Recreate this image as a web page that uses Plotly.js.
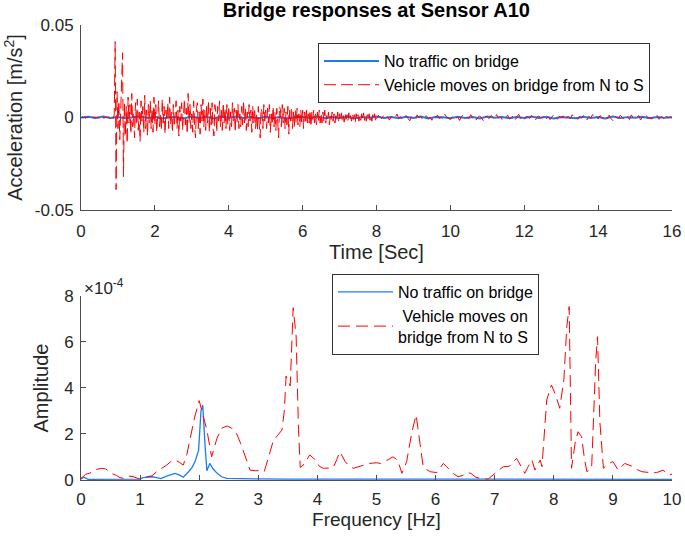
<!DOCTYPE html>
<html>
<head>
<meta charset="utf-8">
<script src="https://cdn.plot.ly/plotly-3.0.1.min.js"></script>
<style>
  html, body { margin: 0; padding: 0; background: #fff; }
  #chart { width: 685px; height: 537px; }
</style>
</head>
<body>
<div id="chart"></div>
<script>
// sampling of the acceleration records [s]
const DT_QUIET = 0.2;
const DT_VEHICLE_EARLY = 0.025;  // 0 - 8 s, vehicle on the bridge
const DT_VEHICLE_LATE = 0.05;    // 8 - 16 s, free decay
const T_LATE_START = 8;

// acceleration, no traffic, in 1e-3 m/s^2 (every 0.2 s)
const ACC_QUIET = [
  0.0, 0.4, -0.3, 0.5, -0.2, 0.3, -0.4, 0.2, 0.5, -0.3, 0.4, -0.5, 0.3, 0.1, -0.4, 0.5, -0.2, 0.3, -0.5, 0.4,
  -0.1, 0.5, -0.3, 0.2, -0.4, 0.4, -0.2, 0.3, -0.5, 0.1, 0.4, -0.3, 0.5, -0.4, 0.2, -0.2, 0.4, -0.5, 0.3, -0.1,
  0.5, -0.3, 0.2, -0.4, 0.4, -0.2, 0.5, -0.5, 0.3, 0.1, -0.4, 0.4, -0.3, 0.2, -0.5, 0.5, -0.1, 0.3, -0.4, 0.2,
  -0.3, 0.5, -0.2, 0.4, -0.5, 0.3, 0.1, -0.4, 0.4, -0.2, 0.3, -0.5, 0.5, -0.3, 0.2, -0.1, 0.4, -0.4, 0.3, -0.2,
  0.1
];

// acceleration, vehicle N->S, 0 - 8 s, in 1e-3 m/s^2 (every 0.025 s)
const ACC_VEHICLE_EARLY = [
  // 0 - 0.875 s
  0.2, -0.3, 0.4, -0.1, 0.3, -0.5, 0.2, -0.2, 0.5, -0.3, 0.1, -0.4, 0.3, -0.2, 0.4, -0.5, 0.2, -0.1,
  0.3, -0.4, 0.5, -0.2, 0.1, -0.3, 0.4, -0.5, 0.2, -0.3, 0.3, -0.2, 0.4, -0.6, 0.2, -0.3, 0.5, -0.4,
  // 0.9 - 1.2 s (vehicle enters)
  1.5, 41, -39, 14, -6, 9, -12, 5, 18, 35, -32, 8, -10,
  // 1.225 - 1.975 s
  6, -14, 11, -3, 7, -9, 13, -5, 2, -11, 8, -4, 10, -7, 3, -13, 9, -2, 6, -8, 12, -6, 4, -10, 7, -3, 9, -6, 5, -8, 11,
  // 2 - 3.975 s
  -4, 7, -8, 3, 9, -5, 2, -7, 10, -3, 6, -9, 4, -2, 8, -6, 11, -4, 3, -8,
  7, -5, 1, 9, -6, 4, -10, 6, -2, 8, -7, 3, 10, -4, 5, -9, 13, -3, 7, -6,
  2, -8, 9, -4, -11, 5, 8, -6, 3, -9, 7, -2, 10, -5, 4, -7, 6, -3, 9, -8,
  5, -4, 8, -6, -10, 7, 3, -8, 6, -2, 9, -5, 4, -7, 8, -3, 5, -6, 7, -4,
  // 4 - 5.975 s
  6, -7, 3, -5, 8, -2, 5, -8, 4, -3, 7, -6, 2, -5, 6, -4, 9, -3, 5, -7,
  3, -5, 7, -2, 4, -8, 6, -3, 5, -6, 2, -7, 6, -4, -11, 5, 3, -6, 7, -2,
  4, -6, 5, -3, 7, -8, 2, -4, 6, -5, 3, -7, 5, -2, -11, 6, 4, -5, 7, -3,
  5, -6, 3, -4, 6, -9, 4, -2, 5, -6, 3, -5, 4, -3, 5, -4, 2, -5, 4, -3,
  // 6 - 7.975 s
  4, -6, 3, -2, 5, -4, 2, -3, 4, -5, 3, -1, 4, -3, 2, -4, 3, -2, 4, -3,
  2, -3, 3, -2, 4, -3, 1, -2, 3, -4, 2, -1, 3, -2, 2, -3, 1, -2, 3, -2,
  2, -1.5, 2.5, -2, 1, -2.5, 2, -1, 1.5, -2, 2.5, -1.5, 1, -2, 2, -1, 1.5, -2.5, 2, -1,
  1.5, -2, 1, -1.5, 2, -1, 2.5, -1.5, 1, -2, 1.5, -1, 2, -1.5, 1, -2, 1.5, -1, 2, -1.5
];

// acceleration, vehicle N->S, 8 - 16 s, in 1e-3 m/s^2 (every 0.05 s)
const ACC_VEHICLE_LATE = [
  -0.8, 1.2, 0.2, -0.5, 1.6, -0.3, 0.4, -1.4, 0.6, 0.1,
  -0.6, 1.9, -0.2, 0.5, -0.9, 0.3, 1.1, -0.4, -1.8, 0.7,
  0.2, -0.5, 1.4, -0.1, 0.6, -1.2, 0.3, 0.9, -0.4, 0.2,
  -1.5, 0.8, -0.2, 1.3, -0.6, 0.1, -0.9, 1.7, 0.3, -0.4,
  -1.1, 0.5, 0.9, -0.3, 0.2, -1.6, 0.6, 1.2, -0.5, 0.1,
  -0.7, 1.5, -0.2, 0.4, -1.3, 0.3, 0.8, -0.4, -2.0, 0.6,
  0.3, -0.6, 1.1, 0.2, -0.8, 1.6, -0.3, 0.5, -1.0, 0.2,
  -0.4, 1.3, -0.9, 0.1, 0.7, -1.4, 0.4, 1.8, -0.5, 0.2,
  -1.2, 0.6, 0.2, -0.5, 1.0, -0.2, -1.5, 0.4, 0.8, -0.3,
  0.1, 1.4, -0.7, 0.3, -1.1, 0.5, 1.2, -0.4, -0.9, 0.6,
  -0.3, 0.9, -1.6, 0.2, 0.5, -0.6, 1.5, -0.2, 0.3, -1.0,
  0.7, -0.4, 1.1, 0.1, -1.3, 0.6, -0.2, 1.6, -0.5, 0.3,
  -0.8, 1.0, 0.2, -1.2, 0.4, -0.3, 1.3, -0.6, -1.7, 0.5,
  0.2, -0.5, 1.2, -0.1, -0.9, 0.7, 0.3, -1.1, 1.4, -0.2,
  -0.6, 0.4, 1.0, -1.3, 0.2, -0.4, 1.5, -0.7, 0.3, -0.9,
  0.6, -0.2, 1.1, -1.0, 0.4, 0.1, -1.4, 0.8, -0.3, 0.5,
  -0.4
];

// spectrum, no traffic (amplitude in 1e-4)
const FREQ_QUIET = [0, 0.05, 0.12, 0.25, 0.5, 0.75, 1.0, 1.05, 1.12, 1.2, 1.28, 1.35, 1.45, 1.52, 1.59, 1.66,
  1.73, 1.82, 1.88, 1.93, 1.99, 2.03, 2.06, 2.10, 2.13, 2.18, 2.23, 2.30, 2.38, 2.47, 2.6, 2.75, 3.0, 3.5,
  4.0, 4.5, 5.0, 5.5, 6.0, 6.5, 7.0, 7.5, 8.0, 8.5, 9.0, 9.5, 10.0];
const AMP_QUIET = [0.05, 0.12, 0.03, 0.03, 0.04, 0.03, 0.04, 0.10, 0.12, 0.14, 0.10, 0.06, 0.17, 0.24, 0.29, 0.22,
  0.12, 0.36, 0.55, 0.80, 1.30, 3.00, 3.25, 1.45, 0.40, 0.72, 0.50, 0.30, 0.14, 0.07, 0.06, 0.05, 0.05, 0.04,
  0.04, 0.03, 0.04, 0.03, 0.04, 0.03, 0.04, 0.03, 0.04, 0.03, 0.04, 0.03, 0.03];

// spectrum, vehicle N->S (amplitude in 1e-4)
const FREQ_VEHICLE = [
  0.00, 0.08, 0.15, 0.25, 0.35, 0.42, 0.51, 0.60, 0.66, 0.72, 0.80, 0.88, 0.95, 1.00, 1.11, 1.20,
  1.28, 1.37, 1.45, 1.52, 1.59, 1.66, 1.73, 1.79, 1.84, 1.92, 2.00, 2.06, 2.13, 2.21, 2.30, 2.38,
  2.47, 2.55, 2.63, 2.70, 2.75, 2.80, 2.86, 2.95, 3.03, 3.10, 3.18, 3.25, 3.33, 3.40, 3.44, 3.47,
  3.54, 3.59, 3.64, 3.68, 3.71, 3.78, 3.87, 3.97, 4.03, 4.10, 4.20, 4.27, 4.33, 4.38, 4.47, 4.54,
  4.61, 4.70, 4.78, 4.88, 5.00, 5.07, 5.14, 5.21, 5.28, 5.36, 5.43, 5.51, 5.60, 5.67, 5.73, 5.79,
  5.85, 5.91, 6.02, 6.08, 6.13, 6.18, 6.24, 6.30, 6.38, 6.46, 6.55, 6.60, 6.68, 6.75, 6.89, 7.00,
  7.08, 7.15, 7.25, 7.37, 7.44, 7.51, 7.57, 7.63, 7.68, 7.73, 7.77, 7.80, 7.84, 7.88, 7.96, 8.03,
  8.10, 8.17, 8.22, 8.26, 8.30, 8.36, 8.41, 8.47, 8.52, 8.56, 8.64, 8.68, 8.71, 8.74, 8.78, 8.84,
  8.92, 9.00, 9.09, 9.20, 9.27, 9.34, 9.41, 9.49, 9.60, 9.74, 9.85, 9.94, 10.00
];
const AMP_VEHICLE = [
  0.07, 0.25, 0.30, 0.45, 0.51, 0.48, 0.29, 0.20, 0.10, 0.07, 0.17, 0.15, 0.08, 0.04, 0.14, 0.18,
  0.36, 0.50, 0.65, 0.80, 0.87, 0.78, 0.65, 1.10, 1.74, 2.70, 3.45, 2.90, 2.17, 1.01, 1.81, 2.25,
  2.35, 2.25, 2.03, 1.60, 1.23, 0.80, 0.43, 0.40, 0.41, 0.36, 1.10, 1.67, 1.95, 2.17, 3.00, 4.52,
  4.09, 7.49, 6.26, 2.20, 0.54, 0.70, 1.09, 0.87, 0.60, 0.51, 0.52, 0.55, 0.90, 1.23, 0.80, 0.60,
  0.51, 0.58, 0.65, 0.72, 0.75, 0.72, 0.80, 0.92, 1.01, 0.85, 0.29, 0.80, 2.10, 2.83, 1.80, 0.58,
  0.45, 0.36, 0.32, 0.55, 0.72, 0.60, 0.43, 0.28, 0.14, 0.20, 0.32, 0.28, 0.12, 0.07, 0.04, 0.29,
  0.45, 0.58, 0.60, 0.94, 0.60, 0.29, 0.60, 0.87, 0.43, 0.70, 0.87, 0.58, 2.00, 3.48, 4.13, 3.70,
  3.12, 4.35, 6.67, 7.54, 0.51, 1.60, 2.10, 1.88, 0.90, 0.36, 0.51, 3.00, 5.22, 6.23, 2.50, 0.51,
  0.70, 0.80, 0.43, 0.72, 0.65, 0.58, 0.45, 0.36, 0.33, 0.32, 0.43, 0.22, 0.25
];

const BLUE = '#1f7bf2';
const RED = '#ff0000';
const AXIS = '#4d4d4d';
const TXT = '#262626';
const FONT = 'Liberation Sans, Arial, sans-serif';
const RED_DASH = '12px,5px';

const toSI = v => v / 1000; // 1e-3 m/s^2 -> m/s^2

const data = [
  { type: 'scatter', mode: 'lines', name: 'No traffic on bridge',
    x0: 0, dx: DT_QUIET, y: ACC_QUIET.map(toSI),
    xaxis: 'x', yaxis: 'y', legend: 'legend',
    line: { color: BLUE, width: 2 } },
  { type: 'scatter', mode: 'lines', name: 'Vehicle moves on bridge from N to S',
    x0: 0, dx: DT_VEHICLE_EARLY, y: ACC_VEHICLE_EARLY.map(toSI),
    xaxis: 'x', yaxis: 'y', legend: 'legend', legendgroup: 'veh',
    line: { color: RED, width: 1, dash: RED_DASH } },
  { type: 'scatter', mode: 'lines', name: 'Vehicle moves on bridge from N to S',
    x0: T_LATE_START, dx: DT_VEHICLE_LATE, y: ACC_VEHICLE_LATE.map(toSI),
    xaxis: 'x', yaxis: 'y', legend: 'legend', legendgroup: 'veh', showlegend: false,
    line: { color: RED, width: 1, dash: RED_DASH } },
  { type: 'scatter', mode: 'lines', name: 'No traffic on bridge',
    x: FREQ_QUIET, y: AMP_QUIET,
    xaxis: 'x2', yaxis: 'y2', legend: 'legend2',
    line: { color: BLUE, width: 1.3 } },
  { type: 'scatter', mode: 'lines', name: '\u00a0Vehicle moves on<br>bridge from N to S',
    x: FREQ_VEHICLE, y: AMP_VEHICLE,
    xaxis: 'x2', yaxis: 'y2', legend: 'legend2',
    line: { color: RED, width: 1, dash: '12px,6px' } }
];

const axisBase = {
  showgrid: false, zeroline: false, showline: true, linecolor: AXIS, linewidth: 1,
  ticks: 'inside', ticklen: 5, tickcolor: AXIS,
  tickfont: { size: 17, color: TXT, family: FONT },
  automargin: false, fixedrange: true
};

const layout = {
  width: 685, height: 537,
  margin: { l: 81, r: 13, t: 25, b: 57 },
  paper_bgcolor: '#fff', plot_bgcolor: '#fff',
  font: { family: FONT, color: TXT },
  showlegend: true,
  title: { text: '<b>Bridge responses at Sensor A10</b>', font: { size: 20, color: '#000' },
           x: 0.5495, xanchor: 'center', y: 0.981, yanchor: 'middle' },
  xaxis: Object.assign({}, axisBase, {
    domain: [0, 1], anchor: 'y', range: [0, 16], dtick: 2, tick0: 0, ticklabelstandoff: 6,
    title: { text: 'Time [Sec]', font: { size: 20, color: TXT }, standoff: 2 }
  }),
  yaxis: Object.assign({}, axisBase, {
    domain: [0.5934, 1], anchor: 'x', range: [-0.05, 0.05],
    tickvals: [-0.05, 0, 0.05], ticktext: ['-0.05', '0', '0.05'], ticklabelstandoff: 3,
    title: { text: 'Acceleration [m/s<sup>2</sup>]', font: { size: 20, color: TXT }, standoff: 6 }
  }),
  xaxis2: Object.assign({}, axisBase, {
    domain: [0, 1], anchor: 'y2', range: [0, 10], dtick: 1, tick0: 0, ticklabelstandoff: 4,
    title: { text: 'Frequency [Hz]', font: { size: 19, color: TXT }, standoff: 4 }
  }),
  yaxis2: Object.assign({}, axisBase, {
    domain: [0, 0.4044], anchor: 'x2', range: [0, 8], dtick: 2, tick0: 0, ticklabelstandoff: 3,
    title: { text: 'Amplitude', font: { size: 20, color: TXT }, standoff: 10 }
  }),
  legend: {
    x: 0.401, y: 0.9604, xanchor: 'left', yanchor: 'top',
    bgcolor: '#fff', bordercolor: '#333', borderwidth: 1,
    font: { size: 16, color: '#000' }, itemwidth: 55, tracegroupgap: 0
  },
  legend2: {
    x: 0.4247, y: 0.4527, xanchor: 'left', yanchor: 'top',
    bgcolor: '#fff', bordercolor: '#333', borderwidth: 1,
    font: { size: 16, color: '#000' }, itemwidth: 55, tracegroupgap: 0
  },
  annotations: [
    { text: '\u00d710<sup>-4</sup>', xref: 'paper', yref: 'paper', x: 0.002, y: 0.424,
      xanchor: 'left', yanchor: 'middle', showarrow: false, font: { size: 17, color: TXT } }
  ]
};

Plotly.newPlot('chart', data, layout, { staticPlot: true, displayModeBar: false });
</script>
</body>
</html>
